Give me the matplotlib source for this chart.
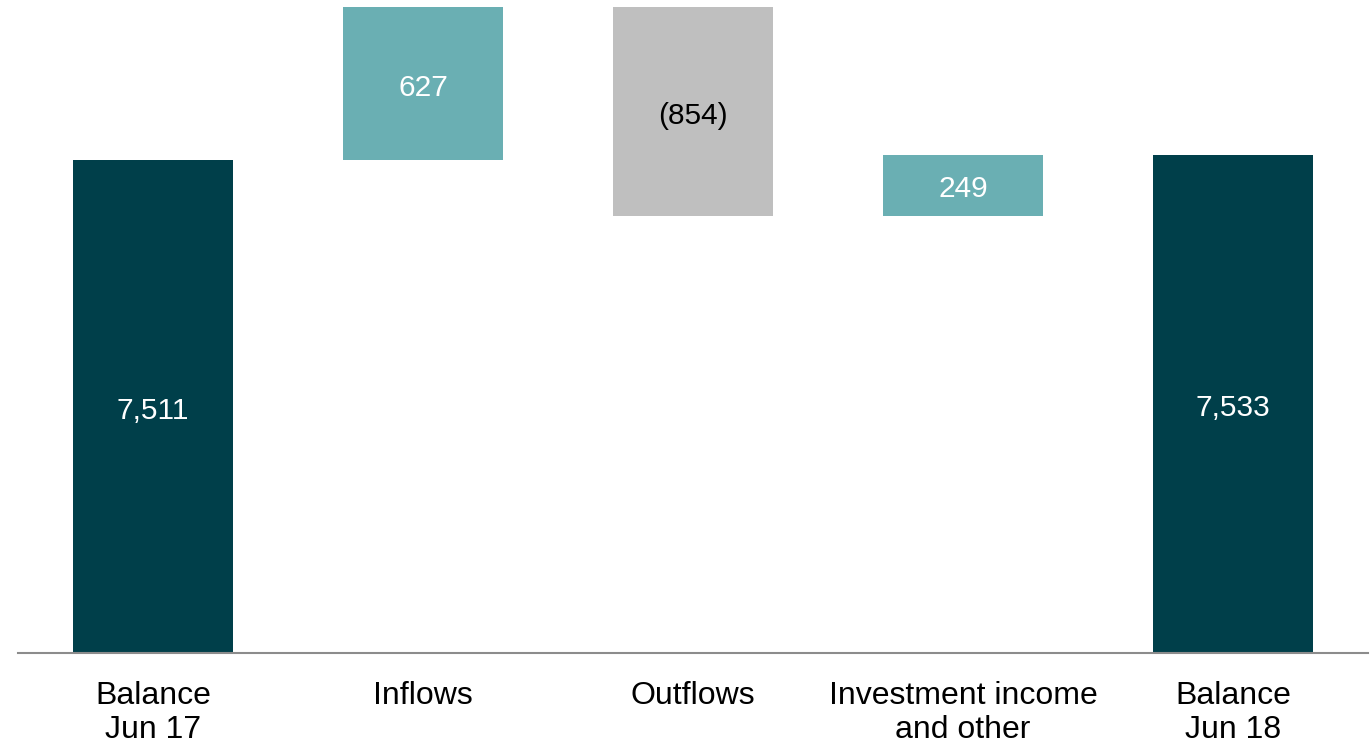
import matplotlib
matplotlib.use("Agg")
import matplotlib.pyplot as plt

categories = ["Balance\nJun 17", "Inflows", "Outflows", "Investment income\nand other", "Balance\nJun 18"]
start_balance = 7511
changes = [627, -854, 249]
end_balance = 7533
labels = ["7,511", "627", "(854)", "249", "7,533"]

DARK = "#003f4a"
TEAL = "#6aafb3"
GREY = "#bfbfbf"

plt.rcParams['font.family'] = ['Liberation Sans', 'DejaVu Sans']

fig = plt.figure(figsize=(13.71, 7.43), dpi=100)
ax = fig.add_axes([18/1371, 90/743, 1350/1371, (653-7)/743])

ymin = 5495
bottoms = []
heights = []
colors = []
# start
bottoms.append(ymin)
heights.append(start_balance - ymin)
colors.append(DARK)
level = start_balance
for c in changes:
    if c >= 0:
        bottoms.append(level)
        heights.append(c)
        colors.append(TEAL)
    else:
        bottoms.append(level + c)
        heights.append(-c)
        colors.append(GREY)
    level += c
bottoms.append(ymin)
heights.append(end_balance - ymin)
colors.append(DARK)

x = list(range(len(categories)))
ax.bar(x, heights, bottom=bottoms, width=0.596, color=colors)

text_colors = ["white", "white", "black", "white", "white"]
for xi, b, h, lab, tc in zip(x, bottoms, heights, labels, text_colors):
    ax.annotate(lab, (xi, b + h / 2), xytext=(0, -3), textcoords="offset points",
                ha="center", va="center", color=tc, fontsize=21.5)

ax.set_xlim(-0.5, 4.5)
ax.set_ylim(ymin, 8138 + 0)
ax.set_xticks(x)
ax.set_xticklabels(categories, fontsize=23, linespacing=1.19)
ax.tick_params(axis="x", length=0, pad=20)
ax.set_yticks([])
for s in ["top", "left", "right"]:
    ax.spines[s].set_visible(False)
ax.spines["bottom"].set_color("#8c8c8c")
ax.spines["bottom"].set_linewidth(1.5)

fig.savefig("out.png", dpi=100)
